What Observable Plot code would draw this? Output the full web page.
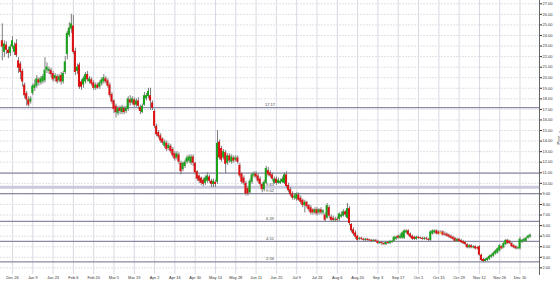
<!DOCTYPE html>
<html><head><meta charset="utf-8">
<script src="https://cdn.jsdelivr.net/npm/d3@7"></script>
<script src="https://cdn.jsdelivr.net/npm/@observablehq/plot@0.6"></script>
<style>body{margin:0;background:#fff} svg{display:block}</style>
</head><body><div id="chart"></div>
<script>
// trading-day index of the first candle (0 = Dec 26)
const firstDay = -5;
const opens = [23.5,22.4,23.1,22.6,22.3,22.9,22.4,23.2,21.6,21.3,
20.6,19.3,18.5,17.9,17.7,18.5,19.0,19.2,19.8,19.5,
19.6,19.7,20.7,20.6,20.7,20.4,19.9,20.1,19.7,20.2,
19.6,20.5,22.2,24.0,24.6,24.9,22.5,20.6,21.2,19.6,
19.3,19.6,20.3,19.6,19.8,19.5,19.0,19.3,19.1,19.4,
19.6,19.9,19.7,19.3,18.4,17.8,17.3,16.6,17.1,16.7,
17.1,16.8,17.0,17.9,17.6,17.9,17.4,17.8,17.2,16.7,
17.4,18.0,18.2,18.3,17.6,16.8,15.4,14.8,14.5,14.2,
13.5,13.8,13.3,13.5,13.2,12.8,12.4,12.7,11.9,11.3,
11.6,12.0,12.1,11.9,12.5,11.9,11.1,10.7,10.5,10.3,
10.0,10.2,10.6,10.2,9.9,10.1,10.1,13.9,13.3,12.4,
12.9,11.9,12.6,12.0,12.4,12.2,12.4,11.7,10.9,10.5,
10.0,9.5,9.1,10.1,10.7,10.9,10.7,10.4,9.9,9.4,
10.0,11.2,11.0,10.8,10.0,10.4,10.0,10.0,10.1,10.0,
10.8,9.8,9.4,9.0,8.6,8.5,8.9,8.6,8.4,7.9,
8.2,7.9,7.7,7.5,7.2,7.5,7.2,7.5,7.2,7.0,
6.7,7.7,6.8,6.7,6.5,6.6,6.6,6.8,6.9,7.3,
6.7,7.6,6.1,5.6,5.3,5.0,4.7,4.8,4.7,4.6,
4.7,4.65,4.6,4.5,4.6,4.5,4.3,4.4,4.3,4.2,
4.4,4.3,4.4,4.5,4.7,5.0,4.8,4.8,4.8,5.3,
5.5,5.2,5.0,4.9,4.7,4.9,4.85,4.8,4.7,4.8,
4.7,4.6,5.2,5.3,5.5,5.4,5.3,5.4,5.2,5.2,
5.1,5.0,4.9,4.8,4.5,4.7,4.6,4.5,4.4,4.2,
3.9,4.1,3.9,4.0,3.9,4.0,3.2,2.8,2.6,2.7,
2.8,3.0,3.1,3.3,3.4,3.6,4.0,3.9,4.2,4.6,
4.5,4.3,4.1,4.0,3.8,3.8,4.4,4.5,4.5,4.8,
4.9];
const highs = [25.1,23.5,23.4,22.9,23.1,23.9,23.3,23.6,21.9,21.5,
20.8,19.5,18.7,18.2,18.2,19.4,19.8,20.2,20.0,20.1,
20.3,21.9,21.4,21.0,20.9,20.6,20.4,20.3,20.3,20.5,
20.6,22.0,24.4,25.2,26.0,25.9,22.8,21.3,21.4,19.8,
20.1,20.5,20.6,20.1,20.0,19.7,19.5,19.5,19.7,20.0,
20.3,20.1,19.9,19.5,18.6,17.9,17.5,17.3,17.3,17.4,
17.3,17.3,18.2,18.3,18.2,18.1,18.0,18.1,17.4,17.5,
18.6,18.5,19.0,19.0,17.8,17.0,15.6,15.0,14.7,14.3,
14.1,14.0,13.8,13.7,13.4,13.0,13.0,12.9,12.1,12.0,
12.2,12.6,12.7,12.7,12.7,12.0,11.2,10.8,10.6,10.5,
10.7,11.0,10.8,10.4,10.4,10.3,15.0,14.1,13.5,13.2,
13.1,12.8,12.8,12.7,12.6,12.6,12.6,11.9,11.0,10.7,
10.2,9.7,10.4,11.0,11.1,11.1,10.9,10.6,10.0,10.3,
11.6,11.5,11.2,11.0,10.6,10.6,10.5,10.4,10.6,11.0,
11.1,10.0,9.6,9.2,9.0,9.1,9.1,8.8,8.5,8.4,
8.3,8.0,7.9,7.6,7.7,7.7,7.6,7.7,7.5,7.2,
8.1,7.9,7.0,6.9,6.8,6.8,7.2,7.3,7.5,7.4,
8.1,7.8,6.2,5.8,5.5,5.1,4.9,4.9,4.8,4.8,
4.8,4.7,4.7,4.7,4.7,4.6,4.5,4.5,4.4,4.5,
4.5,4.6,4.6,5.0,5.0,5.1,5.2,5.4,5.6,5.6,
5.6,5.3,5.1,5.0,5.0,5.0,4.9,4.9,4.9,4.9,
4.8,5.5,5.6,5.6,5.6,5.5,5.5,5.5,5.4,5.3,
5.2,5.1,5.0,4.9,4.8,4.8,4.7,4.6,4.5,4.3,
4.2,4.2,4.1,4.1,4.0,4.1,3.3,2.9,2.9,3.0,
3.2,3.3,3.5,3.7,3.9,4.2,4.1,4.4,4.7,4.7,
4.6,4.4,4.2,4.1,4.0,4.9,4.7,4.8,4.9,5.1,
5.2];
const lows = [21.6,21.9,22.2,21.8,22.0,22.7,22.1,21.9,20.4,19.8,
19.1,18.0,17.3,17.2,17.5,18.3,18.7,19.0,19.2,19.3,
19.4,19.5,20.4,20.3,20.0,19.6,19.6,19.4,19.5,19.3,
19.4,20.3,21.7,23.8,24.2,22.2,20.2,20.3,18.9,18.8,
19.0,19.4,19.6,19.4,19.2,18.8,18.8,18.9,18.9,19.2,
19.4,19.4,19.0,18.1,17.5,16.6,16.2,16.4,16.5,16.5,
16.5,16.6,16.8,17.3,17.4,17.2,17.2,17.0,16.5,16.6,
17.3,17.8,18.0,16.9,16.9,15.2,14.4,14.2,13.8,13.6,
13.3,13.0,13.1,12.8,12.4,12.1,12.2,11.8,10.8,11.1,
11.4,11.8,11.9,11.7,11.6,10.8,10.2,10.0,9.8,9.7,
9.8,10.0,10.0,9.6,9.6,9.6,9.9,12.2,12.0,12.2,
10.9,11.7,11.9,11.8,11.9,12.0,11.8,10.5,9.9,9.8,
8.8,8.8,9.0,9.9,10.5,10.4,10.0,9.7,9.1,9.2,
9.9,10.6,10.5,10.2,9.9,9.8,9.9,9.9,10.0,9.9,
9.5,9.1,8.7,8.4,8.4,8.3,8.3,8.0,7.7,7.2,
7.6,7.3,7.0,7.0,7.0,6.9,7.0,7.0,7.0,6.3,
6.6,6.7,6.3,6.3,6.3,6.3,6.4,6.7,6.8,6.8,
6.6,6.0,5.3,5.0,4.7,4.5,4.6,4.6,4.5,4.5,
4.5,4.5,4.4,4.4,4.4,4.2,4.2,4.1,4.1,4.1,
4.2,4.2,4.3,4.4,4.6,4.7,4.7,4.7,4.7,5.2,
5.0,4.8,4.6,4.6,4.6,4.7,4.7,4.6,4.6,4.6,
4.5,4.5,5.1,5.2,5.1,5.1,5.2,5.0,5.0,4.9,
4.8,4.7,4.6,4.4,4.4,4.4,4.3,4.2,4.1,3.8,
3.8,3.8,3.8,3.7,3.7,3.1,2.6,2.5,2.5,2.6,
2.7,2.9,3.0,3.2,3.3,3.5,3.7,3.8,4.1,4.2,
4.2,3.9,3.8,3.7,3.7,3.7,4.3,4.4,4.4,4.7,
4.8];
const closes = [22.9,23.2,22.6,22.3,22.9,23.5,23.0,22.1,20.9,20.5,
19.6,18.3,17.9,17.4,18.0,19.2,19.3,19.9,19.5,19.9,
20.1,20.7,21.0,20.8,20.3,19.8,20.2,19.6,20.1,19.6,
20.4,21.5,24.2,24.7,25.1,22.4,20.5,21.0,19.1,19.1,
19.9,20.3,19.8,19.9,19.4,19.0,19.3,19.0,19.5,19.8,
20.0,19.6,19.2,18.3,17.7,17.0,16.7,17.1,16.8,17.2,
16.7,17.1,18.0,17.6,18.0,17.4,17.8,17.3,16.8,17.3,
18.3,18.3,18.7,17.8,17.1,15.4,14.6,14.4,14.0,13.8,
13.9,13.2,13.6,13.0,12.6,12.3,12.8,12.0,11.1,11.9,
12.0,12.4,12.5,12.5,11.9,11.0,10.4,10.2,10.0,9.9,
10.5,10.7,10.2,9.9,10.2,9.9,13.8,12.4,12.2,13.0,
11.8,12.6,12.1,12.5,12.1,12.4,12.0,10.7,10.1,10.0,
9.0,9.0,10.2,10.8,10.9,10.6,10.2,9.9,9.4,10.1,
11.4,10.8,10.7,10.4,10.4,10.0,10.3,10.2,10.4,10.8,
9.7,9.3,8.9,8.6,8.8,9.0,8.4,8.2,7.9,8.2,
7.8,7.5,7.2,7.2,7.5,7.1,7.5,7.2,7.4,6.5,
7.9,6.9,6.5,6.5,6.6,6.5,7.1,7.0,7.3,7.0,
7.6,6.2,5.5,5.2,4.9,4.6,4.8,4.7,4.6,4.7,
4.6,4.55,4.5,4.6,4.5,4.3,4.4,4.3,4.2,4.4,
4.3,4.5,4.5,4.9,4.9,4.8,5.0,5.3,5.5,5.5,
5.1,4.9,4.7,4.7,4.9,4.8,4.75,4.7,4.8,4.7,
4.6,5.4,5.5,5.5,5.2,5.2,5.3,5.1,5.1,5.0,
4.9,4.8,4.7,4.5,4.7,4.5,4.4,4.3,4.2,3.9,
4.1,3.9,4.0,3.8,3.8,3.2,2.7,2.6,2.8,2.9,
3.1,3.2,3.4,3.6,3.8,4.1,3.8,4.3,4.6,4.3,
4.3,4.0,3.9,3.8,3.9,4.7,4.6,4.7,4.8,5.0,
5.1];

const tickDays = [0,10,20,30,40,50,60,70,80,90,100,110,120,130,140,150,160,170,180,190,200,210,220,230,240,250];
const tickLabels = ["Dec 26","Jan 9","Jan 23","Feb 6","Feb 20","Mar 5","Mar 19","Apr 2","Apr 16","Apr 30","May 14","May 28","Jun 11","Jun 25","Jul 9","Jul 23","Aug 6","Aug 20","Sep 3","Sep 17","Oct 1","Oct 15","Oct 29","Nov 12","Nov 26","Dec 10"];
const priceTicks = [2,3,4,5,6,7,8,9,10,11,12,13,14,15,16,17,18,19,20,21,22,23,24,25,26,27];

const levels = [17.17,10.96,9.63,9.02,6.39,4.51,2.56];
const levelLabels = ["17.17","","9.63","9.02","6.39","4.51","2.56"];
const levelTones = ["dark","dark","light","dark","dark","dark","dark"];

const candles = opens.map((o,k)=>({day:firstDay+k, open:o, high:highs[k], low:lows[k], close:closes[k]}));
const levelData = levels.map((v,k)=>({value:v, label:levelLabels[k], tone:levelTones[k]}));
const colorOf = d => d.close > d.open ? "#1aa31a" : d.close < d.open ? "#dd1111" : "#e8cc3a";

const font = "Liberation Sans, Arial, sans-serif";
const chart = Plot.plot({
  width: 560, height: 283,
  marginLeft: 0, marginRight: 21, marginTop: 0, marginBottom: 9,
  style: {fontFamily: font, background: "#fff", color: "#333"},
  x: {type: "linear", domain: [-5.9, 259.6]},
  y: {domain: [1.37, 27.31]},
  marks: [
    Plot.gridX({ticks: tickDays, stroke: "#d9d9e3", strokeOpacity: 1}),
    Plot.gridY({ticks: priceTicks, stroke: "#e0e0e8", strokeOpacity: 1, strokeDasharray: "2,1"}),
    Plot.ruleY(levelData.filter(d=>d.tone==="light"), {y: "value", stroke: "#cacadc", strokeWidth: 3}),
    Plot.ruleY(levelData.filter(d=>d.tone==="dark"), {y: "value", stroke: "#8a8aa4", strokeWidth: 1.3}),
    Plot.text(levelData, {y: "value", text: "label", frameAnchor: "middle", dy: -3, fontSize: 4, fill: "#444"}),
    Plot.ruleX(candles, {x: "day", y1: "low", y2: "high", stroke: "#7d7d7d", strokeWidth: 1}),
    Plot.rect(candles.filter(d=>d.open!==d.close), {x1: d=>d.day-0.5, x2: d=>d.day+0.5, y1: "open", y2: "close", fill: colorOf}),
    Plot.ruleY(candles.filter(d=>d.open===d.close), {x1: d=>d.day-0.6, x2: d=>d.day+0.6, y: "close", stroke: "#e8cc3a", strokeWidth: 1.5}),
    Plot.frame({anchor: "right", stroke: "#666"}),
    Plot.axisY({anchor: "right", ticks: priceTicks, tickFormat: d => d.toFixed(2), tickSize: 2, tickPadding: 1, fontSize: 4, label: "Price", labelAnchor: "center", labelOffset: 20}),
    Plot.axisX({ticks: tickDays, tickFormat: d => tickLabels[tickDays.indexOf(d)], tickSize: 0, tickPadding: 2, fontSize: 4, label: null})
  ]
});
document.getElementById("chart").appendChild(chart);
</script>
</body></html>
